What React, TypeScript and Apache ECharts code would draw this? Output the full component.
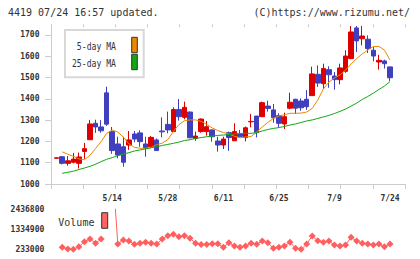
import React, { useEffect, useRef } from 'react';
import * as echarts from 'echarts';

const dates = ['4/25','4/26','4/30','5/1','5/2','5/7','5/8','5/9','5/10','5/13','5/14','5/15','5/16','5/17','5/20','5/21','5/22','5/23','5/24','5/27','5/28','5/29','5/30','5/31','6/3','6/4','6/5','6/6','6/7','6/10','6/11','6/12','6/13','6/14','6/17','6/18','6/19','6/20','6/21','6/24','6/25','6/26','6/27','6/28','7/1','7/2','7/3','7/4','7/5','7/8','7/9','7/10','7/11','7/12','7/16','7/17','7/18','7/19','7/22','7/23','7/24'];

const opens = [1121,1128,1097,1102,1097,1153,1208,1285,1268,1428,1246,1188,1175,1183,1235,1240,1188,1175,1207,1249,1280,1246,1350,1313,1338,1214,1246,1246,1254,1202,1183,1241,1203,1235,1218,1292,1319,1316,1366,1348,1321,1282,1356,1398,1390,1398,1415,1515,1471,1537,1507,1490,1529,1589,1733,1682,1680,1628,1573,1578,1550];
const closes = [1123,1097,1109,1117,1127,1166,1282,1268,1250,1281,1157,1136,1102,1207,1211,1199,1169,1219,1157,1245,1254,1350,1316,1360,1217,1225,1305,1269,1222,1183,1211,1218,1246,1222,1264,1294,1241,1382,1355,1311,1285,1316,1384,1356,1358,1363,1517,1474,1542,1513,1490,1545,1601,1714,1672,1695,1636,1601,1581,1565,1499];
const highs = [1125,1132,1131,1146,1148,1193,1301,1302,1300,1457,1268,1222,1222,1249,1249,1252,1222,1225,1214,1313,1340,1360,1399,1387,1340,1246,1308,1296,1256,1222,1222,1246,1285,1254,1270,1329,1320,1387,1391,1376,1332,1335,1429,1400,1402,1441,1551,1557,1565,1553,1526,1565,1628,1742,1742,1742,1698,1643,1607,1584,1550];
const lows = [1119,1092,1086,1097,1073,1118,1207,1240,1241,1273,1142,1121,1081,1160,1196,1175,1128,1172,1156,1219,1238,1246,1298,1304,1215,1203,1241,1227,1199,1152,1164,1156,1203,1218,1200,1266,1219,1315,1340,1288,1266,1258,1351,1329,1344,1348,1414,1456,1448,1452,1443,1468,1522,1586,1620,1651,1615,1576,1537,1542,1484];

const ma5 = [null,1151,1140,1130,1118,1114,1135,1167,1199,1238,1253,1244,1220,1189,1172,1168,1168,1171,1185,1192,1208,1247,1279,1297,1301,1301,1294,1280,1263,1251,1242,1235,1224,1217,1221,1223,1244,1268,1289,1308,1319,1326,1332,1332,1333,1338,1355,1395,1446,1479,1498,1512,1535,1564,1589,1611,1629,1646,1646,1629,1582];
const ma25 = [null,1050,1055,1060,1068,1075,1083,1093,1105,1116,1124,1133,1141,1147,1155,1160,1165,1170,1175,1181,1186,1191,1197,1204,1208,1214,1218,1222,1225,1228,1230,1232,1235,1237,1238,1238,1241,1249,1256,1261,1265,1270,1277,1282,1289,1296,1301,1308,1315,1322,1331,1341,1352,1366,1380,1397,1411,1427,1444,1460,1481];

const volumes = [null,343000,250000,233000,376000,652000,800000,564000,800000,null,5000000,525000,745000,690000,508000,564000,619000,564000,525000,800000,982000,1059000,927000,982000,839000,564000,497000,497000,542000,536000,343000,597000,415000,343000,415000,564000,508000,690000,597000,288000,343000,415000,619000,288000,233000,525000,966000,707000,619000,690000,470000,415000,470000,894000,690000,564000,525000,470000,525000,376000,525000];

const priceTicks = [1000, 1100, 1200, 1300, 1400, 1500, 1600, 1700];
const volumeTicks = [233000, 1334900, 2436800];

const RED = '#dd0000';
const BLUE = '#4040bf';
const ORANGE = '#ee8800';
const GREEN = '#11a811';
const VOL = '#ff5f5f';
const GRAY = '#cccccc';
const MONO = '"DejaVu Sans Mono", monospace';

export default function App() {
  const ref = useRef<HTMLDivElement>(null);
  useEffect(() => {
    const chart = echarts.init(ref.current!, null, { renderer: 'svg' });
    const candles = dates.map((_, i) => [opens[i], closes[i], lows[i], highs[i]]);
    const PLOT_TOP = 24.3;
    const PLOT_H = 159.7;
    const CAT_LEFT = 53.9;
    const CAT_W = 338.9;
    const axisLabelStyle = { fontFamily: MONO, fontSize: 8, fontWeight: 'bold', color: '#333' };
    const plain = (v: number) => String(v);
    chart.setOption({
      animation: false,
      backgroundColor: '#ffffff',
      grid: [
        { left: CAT_LEFT, top: PLOT_TOP, width: CAT_W, height: PLOT_H },
        { left: 51, top: PLOT_TOP, width: 354, height: PLOT_H },
        { left: CAT_LEFT, top: 209.3, width: CAT_W, height: 40 },
      ],
      xAxis: [
        {
          gridIndex: 0, type: 'category', data: dates, boundaryGap: true,
          axisLine: { show: false }, axisTick: { show: false }, splitLine: { show: false },
          axisLabel: { ...axisLabelStyle, margin: 10, interval: (i: number) => i > 0 && i % 10 === 0 },
        },
        {
          gridIndex: 1, type: 'value', min: 0, max: 11, interval: 1,
          axisLine: { show: true, lineStyle: { color: GRAY } },
          axisTick: { show: true, length: 5, lineStyle: { color: GRAY } },
          axisLabel: { show: false }, splitLine: { show: false },
        },
        {
          gridIndex: 1, type: 'value', min: 0, max: 11, interval: 1,
          axisLine: { show: false },
          axisTick: { show: true, inside: true, length: 3, lineStyle: { color: GRAY } },
          axisLabel: { show: false }, splitLine: { show: false },
        },
        { gridIndex: 2, type: 'category', data: dates, boundaryGap: true, show: false },
      ],
      yAxis: [
        { gridIndex: 0, type: 'value', min: 1000, max: 1750, show: false, splitLine: { show: false } },
        {
          gridIndex: 1, type: 'value', min: 1000, max: 1750,
          axisLine: { show: true, lineStyle: { color: GRAY } },
          axisTick: { show: true, length: 6, customValues: priceTicks, lineStyle: { color: GRAY } },
          axisLabel: { ...axisLabelStyle, margin: 11.5, customValues: priceTicks, formatter: plain },
          splitLine: { show: false },
        },
        {
          gridIndex: 1, type: 'value', min: 1000, max: 1750,
          axisLine: { show: false },
          axisTick: { show: true, inside: true, length: 2, customValues: priceTicks, lineStyle: { color: GRAY } },
          axisLabel: { show: false }, splitLine: { show: false },
        },
        {
          gridIndex: 2, type: 'value', min: 233000, max: 2436800,
          axisLine: { show: false }, axisTick: { show: false }, splitLine: { show: false },
          axisLabel: { ...axisLabelStyle, margin: 9.6, customValues: volumeTicks, formatter: plain },
        },
      ],
      series: [
        {
          type: 'candlestick', xAxisIndex: 0, yAxisIndex: 0, data: candles, barWidth: 5, clip: false,
          itemStyle: { color: RED, color0: BLUE, borderColor: RED, borderColor0: BLUE, borderWidth: 1 },
        },
        {
          type: 'line', xAxisIndex: 0, yAxisIndex: 0, data: ma5, showSymbol: false, symbol: 'none',
          lineStyle: { color: ORANGE, width: 1 }, clip: false,
        },
        {
          type: 'line', xAxisIndex: 0, yAxisIndex: 0, data: ma25, showSymbol: false, symbol: 'none',
          lineStyle: { color: GREEN, width: 1 }, clip: false,
        },
        {
          type: 'line', xAxisIndex: 3, yAxisIndex: 3, data: volumes, symbol: 'diamond', symbolSize: 7,
          showSymbol: true, showAllSymbol: true,
          itemStyle: { color: VOL }, lineStyle: { color: VOL, width: 1 }, clip: true, connectNulls: false,
        },
      ],
      graphic: [
        { type: 'text', x: 8, y: 12, style: { text: '4419 07/24 16:57 updated.', font: `10px ${MONO}`, fill: '#333', textAlign: 'left', textVerticalAlign: 'middle' } },
        { type: 'text', x: 410, y: 12, style: { text: '(C)https://www.rizumu.net/', font: `10px ${MONO}`, fill: '#333', textAlign: 'right', textVerticalAlign: 'middle' } },
        { type: 'rect', z: 10, shape: { x: 65, y: 30, width: 78.7, height: 47.3 }, style: { fill: '#ffffff', stroke: '#d8d8d8', lineWidth: 2 } },
        { type: 'text', z: 11, x: 116, y: 46, scaleX: 0.74, style: { text: '5-day MA', font: `11px ${MONO}`, fill: '#333', textAlign: 'right', textVerticalAlign: 'middle' } },
        { type: 'text', z: 11, x: 116, y: 63.3, scaleX: 0.74, style: { text: '25-day MA', font: `11px ${MONO}`, fill: '#333', textAlign: 'right', textVerticalAlign: 'middle' } },
        { type: 'rect', z: 11, shape: { x: 131.7, y: 37.3, width: 5.6, height: 15.4 }, style: { fill: ORANGE, stroke: '#333', lineWidth: 1 } },
        { type: 'rect', z: 11, shape: { x: 131.7, y: 54.3, width: 5.6, height: 15.4 }, style: { fill: GREEN, stroke: '#333', lineWidth: 1 } },
        { type: 'text', z: 11, x: 58.3, y: 222, style: { text: 'Volume', font: `10px ${MONO}`, fill: '#333', textAlign: 'left', textVerticalAlign: 'middle' } },
        { type: 'rect', z: 11, shape: { x: 101.7, y: 212.7, width: 6, height: 15.6 }, style: { fill: '#ff6464', stroke: '#333', lineWidth: 1 } },
      ],
    });
    return () => chart.dispose();
  }, []);
  return <div ref={ref} style={{ position: 'fixed', left: 0, top: 0, width: 420, height: 259, background: '#fff' }} />;
}
